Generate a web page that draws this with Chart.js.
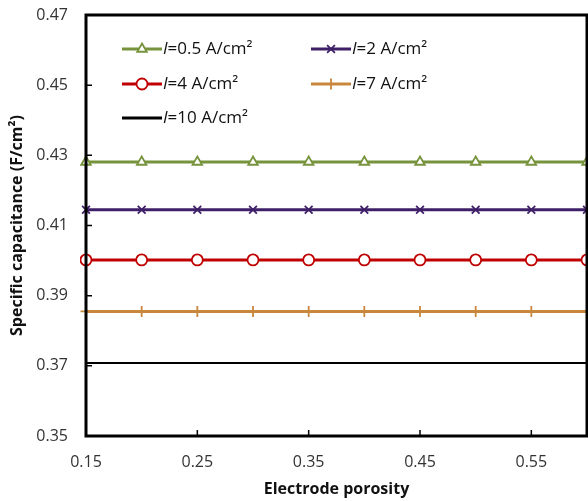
<!DOCTYPE html>
<html>
<head>
<meta charset="utf-8">
<script src="https://cdn.jsdelivr.net/npm/chart.js@4.4.1/dist/chart.umd.min.js"></script>
<style>
  body { margin: 0; background: #fff; }
  canvas { display: block; }
</style>
</head>
<body>
<canvas id="grafica" width="588" height="501"></canvas>
<script>
// porosidad del electrodo (eje x)
const porosidad = [0.15, 0.2, 0.25, 0.3, 0.35, 0.4, 0.45, 0.5, 0.55, 0.6]
// capacitancia especifica para cada densidad de corriente
const cap05 = [0.4281, 0.4281, 0.4281, 0.4281, 0.4281, 0.4281, 0.4281, 0.4281, 0.4281, 0.4281]
const cap2 = [0.4145, 0.4145, 0.4145, 0.4145, 0.4145, 0.4145, 0.4145, 0.4145, 0.4145, 0.4145]
const cap4 = [0.4002, 0.4002, 0.4002, 0.4002, 0.4002, 0.4002, 0.4002, 0.4002, 0.4002, 0.4002]
const cap7 = [0.3855, 0.3855, 0.3855, 0.3855, 0.3855, 0.3855, 0.3855, 0.3855, 0.3855, 0.3855]
const cap10 = [0.3708, 0.3708, 0.3708, 0.3708, 0.3708, 0.3708, 0.3708, 0.3708, 0.3708, 0.3708]
const corrientes = ['0.5', '2', '4', '7', '10']
// marcas de los ejes
const xTicks = [0.15, 0.25, 0.35, 0.45, 0.55]
const yTicks = [0.35, 0.37, 0.39, 0.41, 0.43, 0.45, 0.47]

const series = [
  { data: cap05, color: '#77933c', style: 'triangle', width: 3 },
  { data: cap2, color: '#3f2068', style: 'crossRot', width: 3 },
  { data: cap4, color: '#c00000', style: 'circle', width: 3 },
  { data: cap7, color: '#c8873c', style: 'cross', width: 3 },
  { data: cap10, color: '#000000', style: false, width: 2 },
]

const datasets = series.map((s, i) => ({
  label: 'I=' + corrientes[i] + ' A/cm²',
  data: porosidad.map((x, j) => ({ x: x, y: s.data[j] })),
  borderColor: s.color,
  backgroundColor: '#ffffff',
  borderWidth: s.width,
  pointStyle: s.style,
  pointRadius: s.style ? 5.5 : 0,
  pointBorderWidth: 1.8,
  pointBorderColor: s.color,
  pointBackgroundColor: '#ffffff',
  clip: 6,
}))

// leyenda dentro del area de la grafica, en dos columnas
const leyenda = {
  id: 'leyenda',
  afterDraw(chart) {
    const ctx = chart.ctx
    const pos = [[122, 49], [311, 49], [122, 84], [311, 84], [122, 118]]
    ctx.save()
    series.forEach((s, i) => {
      const [x, y] = pos[i]
      ctx.strokeStyle = s.color
      ctx.lineWidth = 3
      ctx.beginPath()
      ctx.moveTo(x, y)
      ctx.lineTo(x + 40, y)
      ctx.stroke()
      if (s.style) {
        ctx.fillStyle = '#ffffff'
        ctx.lineWidth = 1.8
        Chart.helpers.drawPoint(ctx, { pointStyle: s.style, radius: 5.5, borderWidth: 1.8, rotation: 0 }, x + 20, y)
      }
      ctx.fillStyle = '#111'
      ctx.textBaseline = 'middle'
      ctx.font = 'italic 17px "Open Sans"'
      ctx.fillText('I', x + 41, y)
      const w = ctx.measureText('I').width
      ctx.font = '17px "Open Sans"'
      ctx.fillText('=' + corrientes[i] + ' A/cm²', x + 41 + w, y)
    })
    ctx.restore()
  }
}

// marco y marcas hacia adentro
const marco = {
  id: 'marco',
  afterDatasetsDraw(chart) {
    const { ctx, chartArea: a, scales } = chart
    ctx.save()
    ctx.strokeStyle = '#000'
    ctx.lineWidth = 1.5
    ctx.beginPath()
    yTicks.forEach(v => {
      const y = scales.y.getPixelForValue(v)
      ctx.moveTo(a.left, y)
      ctx.lineTo(a.left + 6, y)
    })
    xTicks.forEach(v => {
      const x = scales.x.getPixelForValue(v)
      ctx.moveTo(x, a.bottom)
      ctx.lineTo(x, a.bottom - 6)
    })
    ctx.stroke()
    ctx.lineWidth = 3
    ctx.strokeRect(a.left, a.top, a.right - a.left, a.bottom - a.top)
    ctx.restore()
  }
}

// sin relleno extra de las etiquetas en los bordes
function sinRelleno(axis) {
  axis.paddingTop = 0
  axis.paddingBottom = 0
  axis.paddingLeft = 0
  axis.paddingRight = 0
}

new Chart(document.getElementById('grafica'), {
  type: 'line',
  data: { datasets: datasets },
  plugins: [marco, leyenda],
  options: {
    responsive: false,
    devicePixelRatio: 1,
    animation: false,
    layout: { autoPadding: false, padding: { top: 15, right: 1, left: 0, bottom: 0 } },
    plugins: {
      legend: { display: false },
      tooltip: { enabled: false }
    },
    scales: {
      x: {
        type: 'linear',
        min: 0.15,
        max: 0.6,
        afterBuildTicks: axis => { axis.ticks = xTicks.map(v => ({ value: v })) },
        afterFit: axis => { axis.height = 65; sinRelleno(axis) },
        grid: { display: false, drawTicks: false },
        border: { display: false },
        ticks: {
          padding: 17,
          color: '#333',
          font: { family: 'Open Sans', size: 16 },
          callback: v => v.toFixed(2)
        },
        title: {
          display: true,
          text: 'Electrode porosity',
          color: '#111',
          font: { family: 'Open Sans', size: 16, weight: 'bold' },
          padding: { top: 0, bottom: 2 }
        }
      },
      y: {
        min: 0.35,
        max: 0.47,
        afterBuildTicks: axis => { axis.ticks = yTicks.map(v => ({ value: v })) },
        afterFit: axis => { axis.width = 86; sinRelleno(axis) },
        grid: { display: false, drawTicks: false },
        border: { display: false },
        ticks: {
          padding: 18,
          color: '#333',
          font: { family: 'Open Sans', size: 16 },
          callback: v => v.toFixed(2)
        },
        title: {
          display: true,
          text: 'Specific capacitance (F/cm²)',
          color: '#111',
          font: { family: 'Open Sans', size: 16, weight: 'bold' },
          padding: { top: 8, bottom: 0 }
        }
      }
    }
  }
})
</script>
</body>
</html>
